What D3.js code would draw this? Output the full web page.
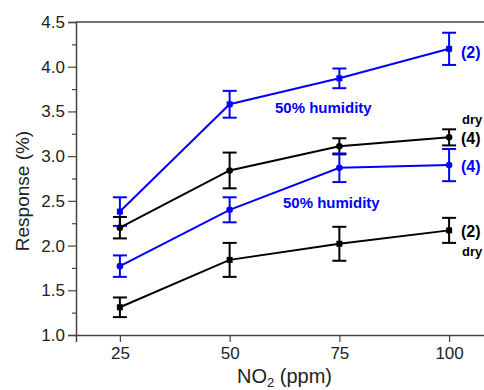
<!DOCTYPE html>
<html>
<head>
<meta charset="utf-8">
<script src="https://cdn.jsdelivr.net/npm/d3@7"></script>
<style>
  html, body { margin: 0; padding: 0; background: #fff; }
  svg { display: block; font-family: "Liberation Sans", Arial, sans-serif; }
</style>
</head>
<body>
<svg id="chart" width="484" height="390"></svg>
<script>
// ---- data ----
const concentrations = [25, 50, 75, 100];
const xTicks = [25, 50, 75, 100];
const yTicks = [1.0, 1.5, 2.0, 2.5, 3.0, 3.5, 4.0, 4.5];

const humid2Values = [2.38, 3.58, 3.87, 4.20];
const humid2Err    = [0.16, 0.15, 0.11, 0.18];
const dry4Values   = [2.20, 2.84, 3.11, 3.21];
const dry4Err      = [0.12, 0.20, 0.09, 0.09];
const humid4Values = [1.77, 2.40, 2.87, 2.90];
const humid4Err    = [0.12, 0.14, 0.16, 0.18];
const dry2Values   = [1.31, 1.84, 2.02, 2.17];
const dry2Err      = [0.11, 0.19, 0.19, 0.14];

const seriesNames = ["humid (2)", "dry (4)", "humid (4)", "dry (2)"];

const series = [
  { name: seriesNames[0], values: humid2Values, err: humid2Err, color: "#0000ff", marker: "square" },
  { name: seriesNames[1], values: dry4Values,   err: dry4Err,   color: "#000000", marker: "circle" },
  { name: seriesNames[2], values: humid4Values, err: humid4Err, color: "#0000ff", marker: "circle" },
  { name: seriesNames[3], values: dry2Values,   err: dry2Err,   color: "#000000", marker: "square" }
];

// ---- layout ----
const svg = d3.select("#chart");
const mLeft = 76, mTop = 22, mBottom = 335, mRight = 493;

const x = d3.scaleLinear().domain([15, 110]).range([mLeft, mRight]);
const y = d3.scaleLinear().domain([1.0, 4.5]).range([mBottom, mTop]);

const axisColor = "#444";
const font = "'Liberation Sans', Arial, sans-serif";

// frame (top & right)
svg.append("line").attr("x1", mLeft).attr("x2", mRight).attr("y1", mTop).attr("y2", mTop)
  .attr("stroke", axisColor).attr("stroke-width", 1.5);
svg.append("line").attr("x1", mRight).attr("x2", mRight).attr("y1", mTop).attr("y2", mBottom)
  .attr("stroke", axisColor).attr("stroke-width", 1.5);

// y axis with minor ticks
const yMinor = d3.range(1.25, 4.5, 0.5);
const yAxisMinor = d3.axisLeft(y).tickValues(yMinor).tickSize(4).tickFormat("");
svg.append("g").attr("transform", `translate(${mLeft},0)`).call(yAxisMinor)
  .call(g => g.select(".domain").remove())
  .call(g => g.selectAll("line").attr("stroke", axisColor).attr("stroke-width", 1.2));

const yAxis = d3.axisLeft(y).tickValues(yTicks).tickSize(8).tickPadding(3).tickFormat(d3.format(".1f"));
svg.append("g").attr("transform", `translate(${mLeft},0)`).call(yAxis)
  .call(g => g.select(".domain").attr("stroke", axisColor).attr("stroke-width", 1.5))
  .call(g => g.selectAll("line").attr("stroke", axisColor).attr("stroke-width", 1.2))
  .call(g => g.selectAll("text").attr("font-size", 17).attr("fill", "#222").attr("font-family", font));

const xAxis = d3.axisBottom(x).tickValues(xTicks).tickSize(7).tickPadding(5).tickFormat(d3.format("d"));
svg.append("g").attr("transform", `translate(0,${mBottom})`).call(xAxis)
  .call(g => g.select(".domain").attr("stroke", axisColor).attr("stroke-width", 1.5))
  .call(g => g.selectAll("line").attr("stroke", axisColor).attr("stroke-width", 1.2))
  .call(g => g.selectAll("text").attr("font-size", 17).attr("fill", "#222").attr("font-family", font));

// axis titles
const xt = svg.append("text").attr("x", (mLeft + mRight) / 2).attr("y", 383)
  .attr("text-anchor", "middle").attr("font-size", 20).attr("fill", "#222");
xt.append("tspan").text("NO");
xt.append("tspan").attr("font-size", 13).attr("dy", 4).text("2");
xt.append("tspan").attr("dy", -4).text(" (ppm)");

svg.append("text").attr("transform", `translate(29,191) rotate(-90)`)
  .attr("text-anchor", "middle").attr("font-size", 19).attr("fill", "#222")
  .text("Response (%)");

// series
const line = d3.line().x((d, i) => x(concentrations[i])).y(d => y(d));
const capW = 7;

series.forEach(s => {
  const g = svg.append("g");
  g.append("path").datum(s.values).attr("d", line)
    .attr("fill", "none").attr("stroke", s.color).attr("stroke-width", 2);
  s.values.forEach((v, i) => {
    const cx = x(concentrations[i]);
    const y1 = y(v + s.err[i]), y0 = y(v - s.err[i]);
    g.append("line").attr("x1", cx).attr("x2", cx).attr("y1", y1).attr("y2", y0)
      .attr("stroke", s.color).attr("stroke-width", 2);
    [y1, y0].forEach(yy => g.append("line").attr("x1", cx - capW).attr("x2", cx + capW)
      .attr("y1", yy).attr("y2", yy).attr("stroke", s.color).attr("stroke-width", 2));
    if (s.marker === "square") {
      g.append("rect").attr("x", cx - 3).attr("y", y(v) - 3).attr("width", 6).attr("height", 6)
        .attr("fill", s.color);
    } else {
      g.append("circle").attr("cx", cx).attr("cy", y(v)).attr("r", 3.3).attr("fill", s.color);
    }
  });
});

// annotations
const ann = [
  { t: "(2)", x: 461, y: 58, c: "#0000ff", s: 16 },
  { t: "dry", x: 462, y: 124, c: "#000", s: 13 },
  { t: "(4)", x: 461, y: 144, c: "#000", s: 16 },
  { t: "(4)", x: 461, y: 172, c: "#0000ff", s: 16 },
  { t: "(2)", x: 461, y: 237, c: "#000", s: 16 },
  { t: "dry", x: 462, y: 256, c: "#000", s: 13 },
  { t: "50% humidity", x: 275, y: 113, c: "#0000ff", s: 15 },
  { t: "50% humidity", x: 283, y: 208, c: "#0000ff", s: 15 }
];
ann.forEach(a => svg.append("text").attr("x", a.x).attr("y", a.y).attr("fill", a.c)
  .attr("font-size", a.s).attr("font-weight", "bold").text(a.t));
</script>
</body>
</html>
